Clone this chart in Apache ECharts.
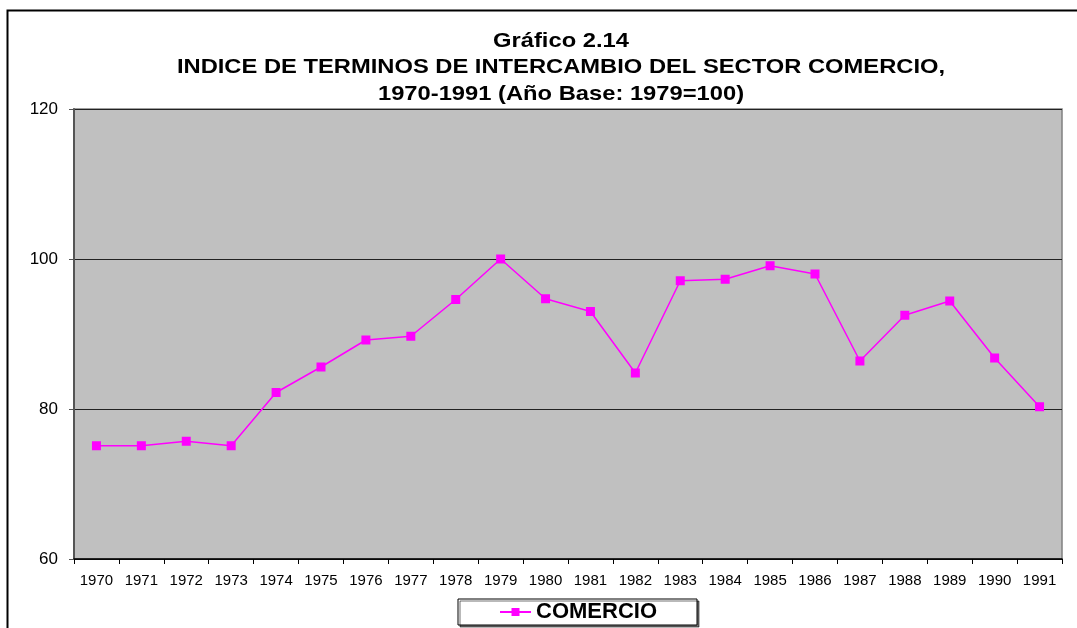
<!DOCTYPE html>
<html><head><meta charset="utf-8">
<script src="https://cdn.jsdelivr.net/npm/echarts@6/dist/echarts.min.js"></script>
<style>html,body{margin:0;padding:0;background:#fff}#c{width:1077px;height:628px}</style>
</head><body><div id="c"></div>
<script>
const years = ['1970','1971','1972','1973','1974','1975','1976','1977','1978','1979','1980','1981','1982','1983','1984','1985','1986','1987','1988','1989','1990','1991'];
const comercio = [75.1,75.1,75.7,75.1,82.2,85.6,89.2,89.7,94.6,100,94.7,93.0,84.8,97.1,97.3,99.1,98.0,86.4,92.5,94.4,86.8,80.3];
const yTicks = [60,80,100,120];
const titleLines = ['Gráfico 2.14','INDICE DE TERMINOS DE INTERCAMBIO DEL SECTOR COMERCIO,','1970-1991 (Año Base: 1979=100)'];
const seriesName = 'COMERCIO';

const chart = echarts.init(document.getElementById('c'), null, {renderer:'canvas'});
const ff = '"Liberation Sans", Arial, sans-serif';
const titleY = [41, 67, 94];
const titleGraphics = titleLines.map((t,i)=>({
  type:'text', x:561, y:titleY[i], scaleX:1.13,
  style:{text:t, align:'center', verticalAlign:'middle', fontFamily:ff, fontSize:21, fontWeight:'bold', fill:'#000'}
}));
chart.setOption({
  animation:false,
  backgroundColor:'#fff',
  graphic:[
    {type:'rect', left:5, top:8, shape:{x:0,y:0,width:1200,height:700}, style:{fill:'none',stroke:'#000',lineWidth:2}, z:-1}
  ].concat(titleGraphics),
  grid:{left:74, top:109, right:15, bottom:69, show:true, backgroundColor:'#C0C0C0', borderColor:'#808080', borderWidth:1.5},
  legend:{
    data:[seriesName],
    left:458, top:599,
    padding:[2,40,2,41],
    backgroundColor:'#fff', borderColor:'#000', borderWidth:1,
    shadowColor:'rgba(0,0,0,0.55)', shadowOffsetX:2, shadowOffsetY:2, shadowBlur:0,
    itemWidth:31, itemHeight:10, itemGap:5,
    textStyle:{fontFamily:ff, fontSize:22, fontWeight:'bold', color:'#000'}
  },
  xAxis:{
    type:'category', data:years, boundaryGap:true,
    axisLine:{lineStyle:{color:'#000', width:1.5}},
    axisTick:{show:true, length:5, lineStyle:{color:'#000'}},
    axisLabel:{fontFamily:ff, fontSize:15, color:'#000', margin:14, interval:0},
    splitLine:{show:false}
  },
  yAxis:{
    type:'value', min:60, max:120, interval:20,
    axisLine:{show:true, lineStyle:{color:'#555', width:2}},
    axisTick:{show:true, length:5, lineStyle:{color:'#555'}},
    axisLabel:{fontFamily:ff, fontSize:17, color:'#000', margin:16,
      formatter:v=> yTicks.includes(v)? String(v):''},
    splitLine:{show:true, lineStyle:{color:'#222', width:1}}
  },
  series:[{
    name:seriesName, type:'line', data:comercio,
    symbol:'rect', symbolSize:9,
    lineStyle:{color:'#FF00FF', width:1.5},
    itemStyle:{color:'#FF00FF'}
  }]
});
</script></body></html>
